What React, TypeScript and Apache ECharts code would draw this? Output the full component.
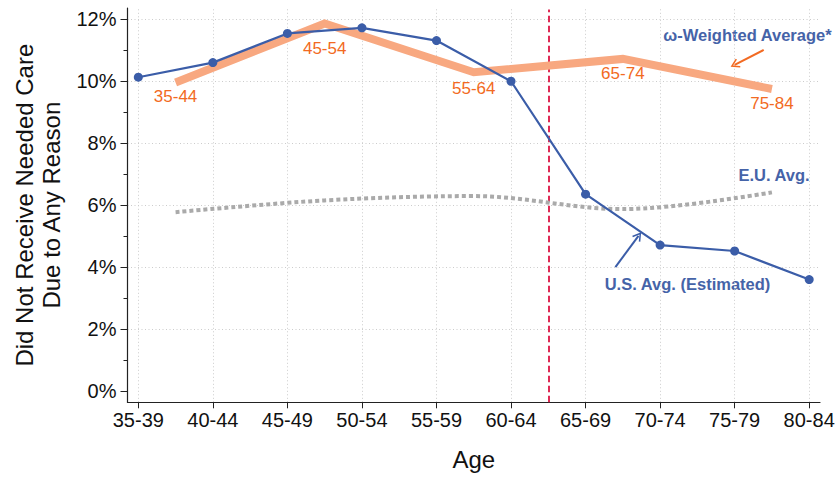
import React, { useEffect, useRef } from 'react';
import * as echarts from 'echarts';

// ---- data ----
const categories = ['35-39', '40-44', '45-49', '50-54', '55-59', '60-64', '65-69', '70-74', '75-79', '80-84'];
const usValues = [10.12, 10.59, 11.53, 11.71, 11.3, 9.99, 6.35, 4.71, 4.52, 3.6];
const weightedGroups = ['35-44', '45-54', '55-64', '65-74', '75-84'];
const groupPositions = [0.5, 2.5, 4.5, 6.5, 8.5];
const weightedValues = [9.95, 11.85, 10.28, 10.71, 9.74];
const euValues = [5.77, 6.15, 6.29, 5.87, 6.41];
const yTicks = [0, 2, 4, 6, 8, 10, 12];
const thresholdPosition = 5.5;
const orangeArrow = [[8.39, 11.0], [8.0, 10.52]];
const blueArrow = [[6.4, 4.0], [6.71, 5.01]];

// ---- layout / style ----
const W = 839;
const H = 477;
const GRID = { left: 127.5, right: 19, top: 8, bottom: 74.7 };
const X_MIN = -0.145;
const X_MAX = 9.145;
const Y_MIN = -0.355;
const Y_MAX = 12.35;
const labelDistances = [5, 15.5, 7, 5.8, 5.5];
const FONT = 'Liberation Sans, Arial, Helvetica, sans-serif';
const BLUE = '#3b5da8';
const ORANGE_LINE = '#f8a880';
const ORANGE_TEXT = '#f26a22';
const GRID_COLOR = '#cccccc';
const CHEVRON = 'path://M0 0 L6 10 L4.4 11 L0 3.4 L-4.4 11 L-6 10 Z';

export default function App() {
  const ref = useRef<HTMLDivElement>(null);
  useEffect(() => {
    const chart = echarts.init(ref.current!, null, { renderer: 'svg' });
    const gw = W - GRID.left - GRID.right;
    const gh = H - GRID.top - GRID.bottom;
    const ux = gw / (X_MAX - X_MIN);
    const uy = gh / (Y_MAX - Y_MIN);
    const yTop = yTicks[yTicks.length - 1];
    const inner = {
      left: GRID.left + (0 - X_MIN) * ux,
      right: GRID.right + (X_MAX - (categories.length - 1)) * ux,
      top: GRID.top + (Y_MAX - yTop) * uy,
      bottom: GRID.bottom + (0 - Y_MIN) * uy,
    };
    const gridLines: any[] = [];
    categories.forEach((_, i) => gridLines.push([{ coord: [i, Y_MIN] }, { coord: [i, Y_MAX] }]));
    yTicks.filter((v) => v > 0).forEach((v) => gridLines.push([{ coord: [X_MIN, v] }, { coord: [X_MAX, v] }]));

    const option: any = {
      animation: false,
      backgroundColor: '#ffffff',
      textStyle: { fontFamily: FONT },
      grid: [
        { left: GRID.left, right: GRID.right, top: GRID.top, bottom: GRID.bottom, containLabel: false },
        { left: inner.left, right: inner.right, top: inner.top, bottom: inner.bottom, containLabel: false },
      ],
      xAxis: [
        {
          type: 'value', gridIndex: 0, min: X_MIN, max: X_MAX,
          axisLine: { show: true, onZero: false, lineStyle: { color: '#222', width: 1.2 } },
          axisTick: { show: false }, axisLabel: { show: false }, splitLine: { show: false },
          name: 'Age', nameLocation: 'middle', nameGap: 45,
          nameTextStyle: { fontSize: 24, color: '#111', fontFamily: FONT },
        },
        {
          type: 'value', gridIndex: 1, min: 0, max: categories.length - 1, interval: 1,
          offset: (0 - Y_MIN) * uy,
          axisLine: { show: false, onZero: false },
          axisTick: { show: true, length: 6, lineStyle: { color: '#222', width: 1 } },
          axisLabel: {
            show: true, margin: 8, fontSize: 20, color: '#111', fontFamily: FONT,
            formatter: (v: number) => categories[Math.round(v)] ?? '',
          },
          splitLine: { show: false },
        },
      ],
      yAxis: [
        {
          type: 'value', gridIndex: 0, min: Y_MIN, max: Y_MAX,
          axisLine: { show: true, onZero: false, lineStyle: { color: '#222', width: 1.2 } },
          axisTick: { show: false }, axisLabel: { show: false }, splitLine: { show: false },
          name: 'Did Not Receive Needed Care\nDue to Any Reason', nameLocation: 'middle', nameGap: 63,
          nameTextStyle: { fontSize: 24, color: '#111', fontFamily: FONT, lineHeight: 27 },
        },
        {
          type: 'value', gridIndex: 1, min: 0, max: yTop, interval: 2,
          offset: (0 - X_MIN) * ux,
          axisLine: { show: false, onZero: false },
          axisTick: { show: true, length: 7, lineStyle: { color: '#222', width: 1 } },
          minorTick: { show: true, splitNumber: 2, length: 4, lineStyle: { color: '#222', width: 1 } },
          axisLabel: {
            show: true, margin: 11, fontSize: 20, color: '#111', fontFamily: FONT,
            formatter: (v: number) => `${v}%`,
          },
          splitLine: { show: false },
        },
      ],
      series: [
        {
          name: 'grid', type: 'line', xAxisIndex: 0, yAxisIndex: 0, data: [], z: 0, silent: true,
          markLine: {
            silent: true, z: 0, symbol: ['none', 'none'], label: { show: false },
            lineStyle: { color: GRID_COLOR, width: 1, type: [1, 2.5] },
            data: gridLines,
          },
        },
        {
          name: 'threshold', type: 'line', xAxisIndex: 0, yAxisIndex: 0, data: [], z: 1, silent: true,
          markLine: {
            silent: true, z: 1, symbol: ['none', 'none'], label: { show: false },
            lineStyle: { color: '#dc1443', width: 1.8, type: [6.5, 3.5] },
            data: [[{ coord: [thresholdPosition, Y_MIN] }, { coord: [thresholdPosition, Y_MAX - 0.05] }]],
          },
        },
        {
          name: 'E.U. Avg.', type: 'line', xAxisIndex: 0, yAxisIndex: 0, z: 2,
          data: groupPositions.map((x, i) => [x, euValues[i]]),
          smooth: 0.35, showSymbol: false, symbol: 'none',
          lineStyle: { color: '#aaaaaa', width: 4, type: [4, 3] },
        },
        {
          name: 'ω-Weighted Average*', type: 'line', xAxisIndex: 0, yAxisIndex: 0, z: 3,
          data: groupPositions.map((x, i) => ({
            value: [x, weightedValues[i]],
            label: {
              show: true, position: 'bottom', distance: labelDistances[i],
              formatter: weightedGroups[i], color: ORANGE_TEXT, fontSize: 17, fontFamily: FONT,
            },
          })),
          showSymbol: true, symbol: 'circle', symbolSize: 1,
          itemStyle: { color: 'rgba(0,0,0,0)', borderWidth: 0 },
          lineStyle: { color: ORANGE_LINE, width: 8, join: 'miter' },
          markLine: {
            silent: true, z: 5, symbol: ['none', CHEVRON], symbolSize: [10, 9], label: { show: false },
            lineStyle: { color: ORANGE_TEXT, width: 2, type: 'solid' },
            data: [[{ coord: orangeArrow[0] }, { coord: orangeArrow[1] }]],
          },
        },
        {
          name: 'U.S. Avg. (Estimated)', type: 'line', xAxisIndex: 0, yAxisIndex: 0, z: 4,
          data: usValues.map((v, i) => [i, v]),
          symbol: 'circle', symbolSize: 9,
          itemStyle: { color: BLUE, borderWidth: 0, opacity: 1 },
          lineStyle: { color: BLUE, width: 2.2 },
          markLine: {
            silent: true, z: 5, symbol: ['none', CHEVRON], symbolSize: [10, 9], label: { show: false },
            lineStyle: { color: BLUE, width: 2, type: 'solid' },
            data: [[{ coord: blueArrow[0] }, { coord: blueArrow[1] }]],
          },
        },
      ],
      graphic: [
        {
          type: 'text', x: 747.5, y: 35,
          style: {
            text: 'ω-Weighted Average*', fill: '#4563a8', font: `bold 16.5px ${FONT}`,
            align: 'center', verticalAlign: 'middle',
          },
        },
        {
          type: 'text', x: 774, y: 175,
          style: {
            text: 'E.U. Avg.', fill: '#4563a8', font: `bold 16.5px ${FONT}`,
            align: 'center', verticalAlign: 'middle',
          },
        },
        {
          type: 'text', x: 687.5, y: 283.5,
          style: {
            text: 'U.S. Avg. (Estimated)', fill: '#4563a8', font: `bold 16.5px ${FONT}`,
            align: 'center', verticalAlign: 'middle',
          },
        },
      ],
    };
    chart.setOption(option);
    return () => chart.dispose();
  }, []);
  return (
    <div
      ref={ref}
      style={{ position: 'fixed', left: 0, top: 0, width: W, height: H, background: '#fff' }}
    />
  );
}
